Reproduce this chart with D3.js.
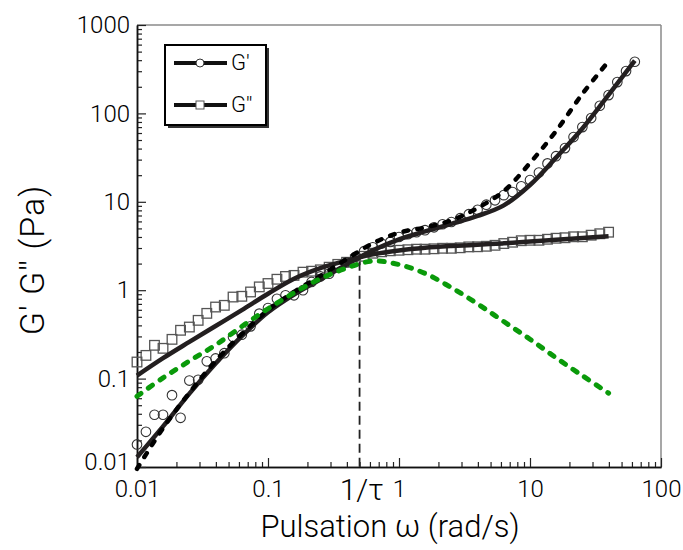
<!DOCTYPE html>
<html>
<head>
<meta charset="utf-8">
<script src="https://cdn.jsdelivr.net/npm/d3@7"></script>
<style>
  html, body { margin: 0; padding: 0; background: #fff; }
  svg { display: block; font-family: Roboto, "Liberation Sans", Arial, sans-serif; font-weight: 300; }
</style>
</head>
<body>
<svg id="chart" width="683" height="550"></svg>
<script>
// Measured frequencies (rad/s)
const omega = [0.0100, 0.0117, 0.0136, 0.0158, 0.0185, 0.0215, 0.0251, 0.0293, 0.0341, 0.0398,
  0.0464, 0.0541, 0.0631, 0.0736, 0.0858, 0.100, 0.117, 0.136, 0.158, 0.185,
  0.215, 0.251, 0.293, 0.341, 0.398, 0.464, 0.541, 0.631, 0.736, 0.858,
  1.00, 1.17, 1.36, 1.58, 1.85, 2.15, 2.51, 2.93, 3.41, 3.98,
  4.64, 5.41, 6.31, 7.36, 8.58, 10.0, 11.7, 13.6, 15.8, 18.5,
  21.5, 25.1, 29.3, 34.1, 39.8, 46.4, 54.1, 63.1];

// Storage modulus G' (Pa)
const gPrime = [0.018, 0.025, 0.039, 0.039, 0.065, 0.036, 0.095, 0.097, 0.157, 0.169,
  0.194, 0.295, 0.314, 0.39, 0.543, 0.628, 0.80, 0.875, 0.875, 1.0,
  1.24, 1.43, 1.54, 1.82, 2.07, 2.38, 2.76, 3.06, 3.37, 3.52,
  4.0, 4.3, 4.53, 4.77, 5.15, 5.57, 5.91, 6.53, 7.24, 8.13,
  9.27, 10.4, 11.9, 12.9, 15.0, 17.6, 21.4, 27.2, 32.8, 40.5,
  54, 70, 88.5, 122, 161, 226, 301, 384];

// Loss modulus G'' (Pa)
const gSecond = [0.154, 0.183, 0.238, 0.22, 0.278, 0.352, 0.383, 0.456, 0.547, 0.645,
  0.674, 0.837, 0.853, 0.955, 1.09, 1.19, 1.33, 1.43, 1.47, 1.60,
  1.64, 1.70, 1.82, 1.96, 2.07, 2.21, 2.42, 2.62, 2.72, 2.79,
  2.83, 2.87, 2.91, 2.91, 2.94, 2.98, 2.98, 3.02, 3.09, 3.10,
  3.14, 3.22, 3.37, 3.49, 3.63, 3.67, 3.67, 3.77, 3.87, 3.92,
  4.02, 4.02, 4.19, 4.35, 4.53];

// Model curves, sampled every 0.2 decade
const fitOmega = [0.01, 0.0158, 0.0251, 0.0398, 0.0631, 0.1, 0.158, 0.251, 0.398, 0.631,
  1, 1.58, 2.51, 3.98, 6.31, 10, 15.8, 25.1, 39.8, 63.1];
const gPrimeFit = [0.0129, 0.0288, 0.0676, 0.148, 0.302, 0.562, 0.891, 1.32, 1.95, 2.82,
  3.76, 4.62, 5.62, 6.92, 9.12, 15.5, 31.6, 67.6, 162, 395];
const gSecondFit = [0.108, 0.170, 0.260, 0.394, 0.596, 0.912, 1.35, 1.78, 2.16, 2.54,
  2.82, 3.02, 3.16, 3.27, 3.39, 3.55, 3.72, 3.89, 4.07];
const gPrimeMaxwell = [0.00955, 0.0275, 0.0692, 0.158, 0.320, 0.596, 0.955, 1.45, 2.24, 3.39,
  4.47, 5.13, 6.17, 8.51, 13.2, 27.5, 63.1, 166, 389];
const gSecondMaxwell = [0.0631, 0.102, 0.158, 0.240, 0.389, 0.617, 0.933, 1.35, 1.78, 2.14,
  1.95, 1.55, 1.07, 0.700, 0.442, 0.279, 0.172, 0.108, 0.0684];

// Relaxation: 1/tau and the G'' maximum
const invTau = 0.5;
const gSecondPeak = 2.1;

// Axis ticks
const xMajor = [0.01, 0.1, 1, 10, 100];
const xLabels = ["0.01", "0.1", "1", "10", "100"];
const yMajor = [0.01, 0.1, 1, 10, 100, 1000];
const yLabels = ["0.01", "0.1", "1", "10", "100", "1000"];

const svg = d3.select("#chart");
const plotLeft = 137, plotRight = 661, plotTop = 25, plotBottom = 467;
const font = "Roboto, 'Liberation Sans', Arial, sans-serif";

const x = d3.scaleLog().domain([0.01, 100]).range([plotLeft, plotRight]);
const y = d3.scaleLog().domain([0.01, 1000]).range([plotBottom, plotTop]);

function minorTicks(major) {
  const out = [];
  for (let k = 0; k < major.length - 1; k++) {
    for (let m = 2; m <= 9; m++) out.push(major[k] * m);
  }
  return out;
}

// Frame: top and right edges in grey
svg.append("line").attr("x1", plotLeft).attr("x2", plotRight).attr("y1", plotTop).attr("y2", plotTop)
  .attr("stroke", "#8a8a8a").attr("stroke-width", 1.5);
svg.append("line").attr("x1", plotRight).attr("x2", plotRight).attr("y1", plotTop).attr("y2", plotBottom)
  .attr("stroke", "#8a8a8a").attr("stroke-width", 1.5);

// Axes with inward ticks
function styleAxis(g) {
  g.selectAll(".domain").attr("stroke", "#111").attr("stroke-width", 1.5);
  g.selectAll(".tick line").attr("stroke", "#222").attr("stroke-width", 1.2);
  g.selectAll(".tick text").attr("fill", "#000").attr("font-size", 24)
    .attr("font-family", font).attr("font-weight", 300);
}

const xAxisG = svg.append("g").attr("transform", `translate(0,${plotBottom})`);
xAxisG.append("g").call(d3.axisBottom(x).tickValues(minorTicks(xMajor)).tickSize(-5).tickSizeOuter(0).tickFormat(""))
  .call(styleAxis);
xAxisG.append("g").call(d3.axisBottom(x).tickValues(xMajor).tickSize(-9).tickSizeOuter(0).tickPadding(13)
  .tickFormat((d, i) => xLabels[i])).call(styleAxis);

const yAxisG = svg.append("g").attr("transform", `translate(${plotLeft},0)`);
yAxisG.append("g").call(d3.axisLeft(y).tickValues(minorTicks(yMajor)).tickSize(-5).tickSizeOuter(0).tickFormat(""))
  .call(styleAxis);
yAxisG.append("g").call(d3.axisLeft(y).tickValues(yMajor).tickSize(-9).tickSizeOuter(0).tickPadding(7)
  .tickFormat((d, i) => yLabels[i])).call(styleAxis);
// lift the bottom y label a little so it clears the x label below it
yAxisG.selectAll(".tick text").filter(d => d === 0.01).attr("dy", "0.1em");

// 1/tau label beside the "1" tick
svg.append("text").attr("x", x(invTau) + 24).attr("y", plotBottom + 12).attr("dy", "0.71em")
  .attr("text-anchor", "end").attr("font-size", 30).attr("fill", "#000")
  .attr("font-family", font).attr("font-weight", 300)
  .text("1/τ");

// Axis titles
svg.append("text").attr("x", 390).attr("y", 537).attr("text-anchor", "middle")
  .attr("font-size", 31).attr("fill", "#000").text("Pulsation ω (rad/s)");
svg.append("text").attr("transform", "translate(44,260) rotate(-90)").attr("text-anchor", "middle")
  .attr("font-size", 34).attr("letter-spacing", 1).attr("fill", "#000").text("G' G'' (Pa)");

// Data markers
const plot = svg.append("g");
plot.append("g").selectAll("rect").data(gSecond).join("rect")
  .attr("x", (d, i) => x(omega[i]) - 4.8).attr("y", d => y(d) - 4.8)
  .attr("width", 9.6).attr("height", 9.6)
  .attr("fill", "none").attr("stroke", "#555").attr("stroke-width", 1.3);
plot.append("g").selectAll("circle").data(gPrime).join("circle")
  .attr("cx", (d, i) => x(omega[i])).attr("cy", d => y(d)).attr("r", 4.8)
  .attr("fill", "none").attr("stroke", "#333").attr("stroke-width", 1.1);

// Curves
const line = d3.line().x(d => x(d[0])).y(d => y(d[1])).curve(d3.curveCatmullRom);
const pairs = vals => vals.map((v, i) => [fitOmega[i], v]);

plot.append("path").attr("d", line(pairs(gSecondFit)))
  .attr("fill", "none").attr("stroke", "#231f20").attr("stroke-width", 4.5);
plot.append("path").attr("d", line(pairs(gPrimeFit)))
  .attr("fill", "none").attr("stroke", "#231f20").attr("stroke-width", 4.5);
plot.append("path").attr("d", line(pairs(gPrimeMaxwell)))
  .attr("fill", "none").attr("stroke", "#000").attr("stroke-width", 4.5)
  .attr("stroke-linecap", "round").attr("stroke-dasharray", "4.5,9.5");
plot.append("path").attr("d", line(pairs(gSecondMaxwell)))
  .attr("fill", "none").attr("stroke", "#0a9a0a").attr("stroke-width", 5)
  .attr("stroke-linecap", "round").attr("stroke-dasharray", "5,9");

// Vertical marker at 1/tau
svg.append("line").attr("x1", x(invTau)).attr("x2", x(invTau))
  .attr("y1", y(gSecondPeak)).attr("y2", plotBottom)
  .attr("stroke", "#222").attr("stroke-width", 1.8).attr("stroke-dasharray", "9,5");

// Legend
const lg = svg.append("g");
lg.append("rect").attr("x", 168).attr("y", 48).attr("width", 101).attr("height", 80).attr("fill", "#333");
lg.append("rect").attr("x", 165).attr("y", 45).attr("width", 101).attr("height", 80)
  .attr("fill", "#fff").attr("stroke", "#000").attr("stroke-width", 2);
const items = [{name: "G'", yy: 63, shape: "circle"}, {name: "G''", yy: 105, shape: "square"}];
items.forEach(it => {
  lg.append("line").attr("x1", 174).attr("x2", 227).attr("y1", it.yy).attr("y2", it.yy)
    .attr("stroke", "#111").attr("stroke-width", 4);
  if (it.shape === "circle") {
    lg.append("circle").attr("cx", 200).attr("cy", it.yy).attr("r", 4)
      .attr("fill", "#fff").attr("stroke", "#333").attr("stroke-width", 1);
  } else {
    lg.append("rect").attr("x", 196).attr("y", it.yy - 4).attr("width", 8).attr("height", 8)
      .attr("fill", "#fff").attr("stroke", "#555").attr("stroke-width", 1);
  }
  lg.append("text").attr("x", 231).attr("y", it.yy + 7).attr("font-size", 22).attr("fill", "#000")
    .text(it.name);
});
</script>
</body>
</html>
